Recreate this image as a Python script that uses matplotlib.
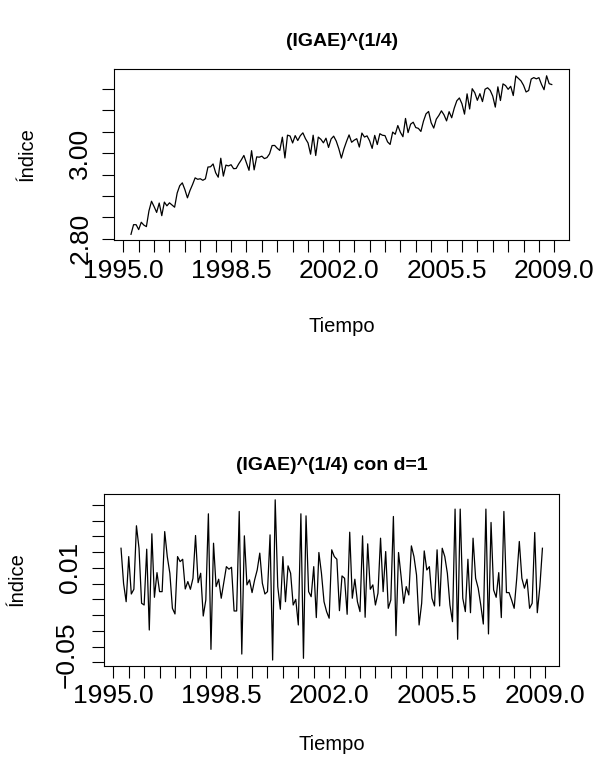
import numpy as np
import matplotlib
matplotlib.use("Agg")
import matplotlib.pyplot as plt

plt.rcParams['font.family'] = ['Liberation Sans', 'DejaVu Sans']

# ---- data ----
# monthly, starting April 1995
start_year = 1995.25

levels = [
 2.8103, 2.8328, 2.8328, 2.8213, 2.8385, 2.8319, 2.8283, 2.8651, 2.8876, 2.8751,
 2.8615, 2.8834, 2.8539, 2.8856, 2.8769, 2.8839, 2.8788, 2.8737, 2.9068, 2.9240,
 2.9306, 2.9149, 2.8956, 2.9128, 2.9268, 2.9423, 2.9389, 2.9402, 2.9366, 2.9400,
 2.9676, 2.9682, 2.9748, 2.9542, 2.9438, 2.9882, 2.9464, 2.9721, 2.9702, 2.9730,
 2.9637, 2.9643, 2.9751, 2.9843, 2.9947, 2.9773, 2.9599, 3.0058, 2.9610, 2.9914,
 2.9906, 2.9930, 2.9873, 2.9897, 2.9984, 3.0178, 3.0181, 3.0115, 3.0064, 3.0374,
 2.9888, 3.0421, 3.0402, 3.0239, 3.0411, 3.0296, 3.0409, 3.0475, 3.0339, 3.0239,
 2.9976, 3.0420, 2.9945, 3.0376, 3.0325, 3.0242, 3.0350, 3.0134, 3.0332, 3.0398,
 3.0283, 3.0105, 2.9885, 3.0100, 3.0272, 3.0427, 3.0255, 3.0304, 3.0338, 3.0143,
 3.0470, 3.0377, 3.0405, 3.0290, 3.0112, 3.0416, 3.0202, 3.0455, 3.0419, 3.0411,
 3.0265, 3.0204, 3.0493, 3.0442, 3.0646, 3.0489, 3.0385, 3.0812, 3.0481, 3.0679,
 3.0724, 3.0599, 3.0580, 3.0508, 3.0748, 3.0920, 3.0975, 3.0712, 3.0587, 3.0795,
 3.0882, 3.0990, 3.0897, 3.0755, 3.0970, 3.0828, 3.1053, 3.1225, 3.1291, 3.1155,
 3.0913, 3.1387, 3.1033, 3.1507, 3.1414, 3.1236, 3.1391, 3.1206, 3.1495, 3.1529,
 3.1470, 3.1334, 3.1077, 3.1551, 3.1231, 3.1620, 3.1580, 3.1493, 3.1563, 3.1347,
 3.1806, 3.1749, 3.1692, 3.1588, 3.1431, 3.1465, 3.1733, 3.1767, 3.1738, 3.1766,
 3.1609, 3.1484, 3.1809, 3.1624, 3.1605,
]

diffs = [
 0.0225, 0.0000, -0.0115, 0.0172, -0.0066, -0.0036, 0.0368, 0.0225, -0.0125, -0.0136,
 0.0219, -0.0295, 0.0317, -0.0087, 0.0070, -0.0051, -0.0051, 0.0331, 0.0172, 0.0066,
 -0.0157, -0.0193, 0.0172, 0.0140, 0.0155, -0.0034, 0.0013, -0.0036, 0.0034, 0.0306,
 0.0006, 0.0066, -0.0206, -0.0104, 0.0444, -0.0418, 0.0257, -0.0019, 0.0028, -0.0093,
 0.0006, 0.0108, 0.0092, 0.0104, -0.0174, -0.0174, 0.0459, -0.0448, 0.0304, -0.0008,
 0.0024, -0.0057, 0.0024, 0.0087, 0.0194, 0.0003, -0.0066, -0.0051, 0.0310,
 -0.0486, 0.0533, -0.0019, -0.0163, 0.0172, -0.0115, 0.0113, 0.0066, -0.0136, -0.0100,
 -0.0263, 0.0444, -0.0475, 0.0431, -0.0051, -0.0083, 0.0108, -0.0216, 0.0198, 0.0066,
 -0.0115, -0.0178, -0.0220, 0.0215, 0.0172, 0.0155, -0.0172, 0.0049, 0.0034, -0.0195,
 0.0327, -0.0093, 0.0028, -0.0115, -0.0178, 0.0304, -0.0214, 0.0253, -0.0036, -0.0008,
 -0.0136, -0.0061, 0.0289, -0.0051, 0.0204, -0.0157, -0.0104, 0.0427, -0.0331, 0.0198,
 0.0045, -0.0125, -0.0019, -0.0072, 0.0240, 0.0172, 0.0055, -0.0263,
 -0.0125, 0.0208, 0.0087, 0.0108, -0.0093, -0.0142, 0.0215, -0.0142, 0.0225, 0.0172,
 0.0066, -0.0136, -0.0242, 0.0474, -0.0354, 0.0474, -0.0093, -0.0178, 0.0155, -0.0185,
 0.0289, 0.0034, -0.0029, -0.0136, -0.0257, 0.0474, -0.0320, 0.0389, -0.0040, -0.0087,
 0.0070, -0.0216, 0.0459, -0.0057, -0.0057, -0.0104, -0.0157, 0.0034, 0.0268, 0.0034,
 -0.0029, 0.0028, -0.0157, -0.0125, 0.0325, -0.0185, -0.0019, 0.0225,
]

t_levels = start_year + np.arange(len(levels)) / 12.0
t_diffs = start_year + np.arange(len(diffs)) / 12.0

xticks = np.arange(1995.0, 2009.01, 0.5)
xlabels = ["%.1f" % v if abs((v - 1995.0) / 3.5 - round((v - 1995.0) / 3.5)) < 1e-6 else "" for v in xticks]
top_yticks = np.arange(2.80, 3.151, 0.05)
top_ylabels = ["2.80" if abs(v - 2.80) < 1e-6 else ("3.00" if abs(v - 3.00) < 1e-6 else "") for v in top_yticks]
bot_yticks = np.arange(-0.05, 0.0501, 0.01)
bot_ylabels = ["0.01" if abs(v - 0.01) < 1e-6 else "" for v in bot_yticks]

W, H = 598, 764
fig = plt.figure(figsize=(W / 100, H / 100), dpi=100)

def px_axes(l, r, t, b):
    return fig.add_axes([l / W, 1 - b / H, (r - l) / W, (b - t) / H])

tick_fs = 19
lab_fs = 14.5
title_fs = 14
lw = 0.8

def style(ax):
    for s in ax.spines.values():
        s.set_linewidth(lw)
    ax.tick_params(axis='both', direction='out', length=8.5, width=lw, labelsize=tick_fs, colors='black')
    ax.tick_params(axis='x', pad=5)
    ax.tick_params(axis='y', pad=7)
    for lab in ax.get_yticklabels():
        lab.set_rotation(90)
        lab.set_va('center')

# top panel
ax1 = px_axes(114, 569.3, 69, 240)
ax1.plot(t_levels, levels, color='black', lw=0.9)
ax1.set_xlim(1994.698, 2009.487)
ax1.set_ylim(2.797, 3.1968)
ax1.set_xticks(xticks)
ax1.set_xticklabels(xlabels)
ax1.set_yticks(top_yticks)
ax1.set_yticklabels(top_ylabels)
style(ax1)

# bottom panel
ax2 = px_axes(104, 559, 494, 665.7)
ax2.plot(t_diffs, diffs, color='black', lw=0.9)
ax2.set_xlim(1994.698, 2009.454)
ax2.set_ylim(-0.0522, 0.0570)
ax2.set_xticks(xticks)
ax2.set_xticklabels(xlabels)
ax2.set_yticks(bot_yticks)
ax2.set_yticklabels(bot_ylabels)
style(ax2)

def ftext(x, y, s, **kw):
    fig.text(x / W, 1 - y / H, s, ha='center', va='center', **kw)

# lowest y tick label of the bottom panel (sits a little above its tick, as in the reference)
ftext(67, 655, "\u22120.05", fontsize=tick_fs, rotation=90)

ftext(342, 41, "(IGAE)^(1/4)", fontsize=title_fs, fontweight='bold')
ftext(332, 465, "(IGAE)^(1/4) con d=1", fontsize=title_fs, fontweight='bold')
ftext(342, 326, "Tiempo", fontsize=lab_fs)
ftext(332, 744, "Tiempo", fontsize=lab_fs)
ftext(27, 154, "\u00cdndice", fontsize=lab_fs, rotation=90)
ftext(17, 579, "\u00cdndice", fontsize=lab_fs, rotation=90)

fig.savefig("out.png", dpi=100)
